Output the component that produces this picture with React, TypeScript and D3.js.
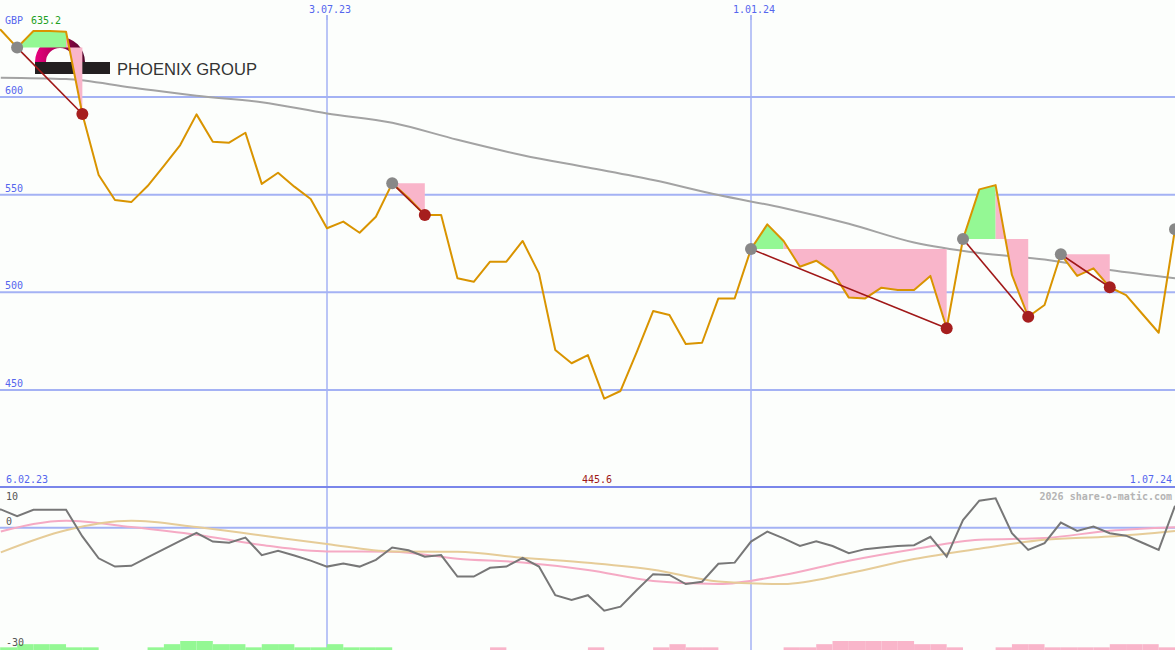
import * as d3 from "d3"

const W = 1175
const H = 650

const startDate = new Date(Date.UTC(2023, 1, 6))
const endDate = new Date(Date.UTC(2024, 6, 1))

// weekly closes, GBP (pence)
const price = [
  636.0, 634.3, 625.3, 633.8, 633.8, 633.4, 591.3, 560.1, 547.3, 546.2,
  554.4, 564.7, 575.4, 591.1, 577.1, 576.6, 581.7, 555.5, 561.2, 554.1,
  547.8, 532.8, 536.2, 530.5, 538.7, 555.8, 548.3, 539.6, 539.6, 507.2,
  505.4, 515.7, 515.7, 526.3, 509.7, 470.5, 463.7, 467.9, 445.6, 449.5,
  469.5, 490.4, 488.4, 473.5, 474.2, 496.9, 496.9, 522.2, 534.8, 526.3,
  513.1, 516.2, 510.6, 497.3, 496.9, 502.4, 501.2, 501.2, 508.4, 481.6,
  527.3, 552.7, 554.9, 508.9, 487.5, 493.5, 519.5, 508.4, 512.3, 502.6,
  498.6, 488.9, 479.3, 532.3,
]

// long moving average, read every 4th week starting at week 1
const maValues = [
  609.9, 609.2, 604.9, 600.6, 597.3, 591.6, 586.8, 578.1, 570.2, 563.9,
  557.5, 549.8, 543.2, 535.1, 525.5, 520.1, 516.8, 511.4, 507.2,
]

// lower panel oscillator, weekly
const osc = [
  4.0, 4.6, 2.9, 4.5, 4.5, 4.5, -2.2, -7.7, -9.8, -9.6,
  -7.5, -5.4, -3.3, -1.3, -3.5, -3.8, -2.5, -6.9, -5.8, -7.0,
  -8.3, -9.8, -9.0, -9.8, -8.1, -5.0, -5.7, -7.3, -6.9, -12.3,
  -12.3, -10.1, -9.8, -7.6, -9.8, -17.0, -18.2, -17.0, -20.9, -19.9,
  -15.7, -11.7, -11.9, -14.2, -13.6, -9.1, -8.8, -3.5, -1.0, -2.7,
  -4.6, -3.4, -4.6, -6.4, -5.4, -5.0, -4.6, -4.4, -2.3, -7.3,
  1.9, 6.8, 7.4, -1.4, -5.6, -3.9, 1.3, -0.8, 0.3, -1.4,
  -2.0, -3.8, -5.6, 5.5,
]

// smoothed oscillator lines, every 4th week starting at week 1
const oscFast = [
  -0.96, 1.76, 0.18, -1.76, -4.36, -6.0, -6.05, -7.8, -8.77, -10.65,
  -13.4, -14.2, -11.9, -8.3, -5.4, -3.05, -2.6, -0.76, 0.13,
]
const oscSlow = [
  -6.2, -0.63, 1.74, 0.18, -1.96, -4.1, -6.0, -6.05, -7.58, -8.84,
  -10.58, -13.55, -14.2, -11.5, -7.9, -5.3, -3.05, -2.24, -0.83,
]

// bottom strip: + green, - pink
const strip = [
  1, 1, 2, 2, 2, 1, 1, 0, 0, 0,
  1, 2, 3, 3, 2, 2, 1, 2, 2, 1,
  1, 2, 1, 1, 1, 0, 0, 0, 0, 0,
  0, -1, 0, 0, 0, 0, 0, -1, 0, 0,
  0, -1, -2, -1, -1, 0, 0, 0, 0, -1,
  -1, -2, -3, -3, -3, -3, -3, -2, -2, -1,
  0, 0, -1, -2, -2, -1, -1, -1, -1, -2,
  -2, -2, -1, -1,
]

const signalStart = [2, 25, 47, 60, 66, 73]
const signalEnd = [6, 27, 59, 64, 69, -1]

const priceTicks = [450, 500, 550, 600]
const dateTicks = [new Date(Date.UTC(2023, 6, 3)), new Date(Date.UTC(2024, 0, 1))]
const dateTickLabels = ["3.07.23", "1.01.24"]

const MONO = "'DejaVu Sans Mono', monospace"
const GRID = "#a4b2f4"
const BLUE = "#5566ee"

export default function App() {
  const weeks = price.map((_, i) => d3.utcDay.offset(startDate, 7 * i))
  const sparse = maValues.map((_, i) => weeks[1 + 4 * i])

  const x = d3.scaleUtc().domain([startDate, endDate]).range([-15.5, W])
  const y = d3.scaleLinear().domain([450, 600]).range([390, 97])
  const yo = d3.scaleLinear().domain([-30, 10]).range([646.8, 488])
  const yb = d3.scaleLinear().domain([0, 3]).range([650.5, 641])

  const priceLine = d3
    .line<number>()
    .x((_, i) => x(weeks[i]))
    .y((d) => y(d))
  const maLine = d3
    .line<number>()
    .x((_, i) => x(sparse[i]))
    .y((d) => y(d))
    .curve(d3.curveMonotoneX)
  const oscLine = d3
    .line<number>()
    .x((_, i) => x(weeks[i]))
    .y((d) => yo(d))
  const smoothLine = d3
    .line<number>()
    .x((_, i) => x(sparse[i]))
    .y((d) => yo(d))
    .curve(d3.curveMonotoneX)
  const poly = d3.line<[number, number]>()

  // green: rise above the signal level, pink: fall from there to the end point
  const fills: { d: string; color: string }[] = []
  signalStart.forEach((s, n) => {
    const e = signalEnd[n]
    if (e < 0) return
    const level = y(price[s])
    let k = s
    while (k + 1 <= e && price[k + 1] > price[s]) k++
    if (k > s) {
      const pts: [number, number][] = d3.range(s, k + 1).map((i) => [x(weeks[i]), y(price[i])])
      pts.push([x(weeks[k]), level], [x(weeks[s]), level])
      fills.push({ d: poly(pts) + "Z", color: "#94f894" })
    }
    const pp: [number, number][] = d3.range(k, e + 1).map((i) => [x(weeks[i]), y(price[i])])
    pp.push([x(weeks[e]), level], [x(weeks[k]), level])
    fills.push({ d: poly(pp) + "Z", color: "#f9b5ca" })
  })

  const logoArc = d3.arc()({
    innerRadius: 14,
    outerRadius: 25,
    startAngle: -Math.PI / 2,
    endAngle: Math.PI / 2,
  } as any)

  return (
    <div>
      <style>{"body{margin:0}"}</style>
      <svg width={W} height={H} style={{ display: "block", background: "#fcfefc" }}>
        <defs>
          <clipPath id="main">
            <rect x={0} y={0} width={W} height={487} />
          </clipPath>
          <clipPath id="lower">
            <rect x={0} y={488} width={W} height={H - 488} />
          </clipPath>
          <linearGradient id="phx" x1="0" x2="1" y1="0" y2="0">
            <stop offset="0" stopColor="#e8007e" />
            <stop offset="0.55" stopColor="#a0004e" />
            <stop offset="1" stopColor="#4e0a2a" />
          </linearGradient>
        </defs>

        {/* grid */}
        {priceTicks.map((t) => (
          <line key={t} x1={0} x2={W} y1={y(t)} y2={y(t)} stroke={GRID} strokeWidth={2} />
        ))}
        {dateTicks.map((d, i) => (
          <line key={i} x1={Math.round(x(d))} x2={Math.round(x(d))} y1={15} y2={H} stroke={GRID} strokeWidth={1.5} />
        ))}
        <line x1={0} x2={W} y1={yo(0)} y2={yo(0)} stroke={GRID} strokeWidth={2} />
        <line x1={0} x2={W} y1={487} y2={487} stroke="#7a86ea" strokeWidth={2} />

        {/* logo */}
        <g>
          <path d={logoArc || ""} transform="translate(60,62)" fill="url(#phx)" />
          <rect x={35} y={62} width={75} height={12} fill="#231f20" />
          <text x={117} y={75} fontFamily="'Liberation Sans', Arial, sans-serif" fontSize={17} fill="#333" textLength={140} lengthAdjust="spacingAndGlyphs">
            PHOENIX GROUP
          </text>
        </g>

        <g clipPath="url(#main)">
          <path d={maLine(maValues) || ""} fill="none" stroke="#a3a3a3" strokeWidth={2} />
          {fills.map((f, i) => (
            <path key={i} d={f.d} fill={f.color} />
          ))}
          <path d={priceLine(price) || ""} fill="none" stroke="#d99400" strokeWidth={2} strokeLinejoin="round" />
          {signalStart.map((s, n) =>
            signalEnd[n] < 0 ? null : (
              <line
                key={n}
                x1={x(weeks[s])}
                y1={y(price[s])}
                x2={x(weeks[signalEnd[n]])}
                y2={y(price[signalEnd[n]])}
                stroke="#a01818"
                strokeWidth={1.6}
              />
            ),
          )}
          {signalStart.map((s) => (
            <circle key={"s" + s} cx={x(weeks[s])} cy={y(price[s])} r={6} fill="#888" />
          ))}
          {signalEnd.filter((e) => e >= 0).map((e) => (
            <circle key={"e" + e} cx={x(weeks[e])} cy={y(price[e])} r={6} fill="#a61e1e" />
          ))}
        </g>

        {/* lower panel */}
        <g clipPath="url(#lower)">
          {strip.map((v, i) =>
            v === 0 ? null : (
              <rect
                key={i}
                x={x(weeks[i])}
                width={x(weeks[1]) - x(weeks[0])}
                y={yb(Math.abs(v))}
                height={yb(0) - yb(Math.abs(v))}
                fill={v > 0 ? "#94f894" : "#f9b5ca"}
              />
            ),
          )}
          <path d={smoothLine(oscFast) || ""} fill="none" stroke="#f5aac4" strokeWidth={2} />
          <path d={smoothLine(oscSlow) || ""} fill="none" stroke="#e6cc98" strokeWidth={2} />
          <path d={oscLine(osc) || ""} fill="none" stroke="#777" strokeWidth={2} />
        </g>

        {/* labels */}
        <g fontFamily={MONO} fontSize={10}>
          {priceTicks.map((t) => (
            <text key={t} x={5} y={y(t) - 3} fill={BLUE}>
              {t}
            </text>
          ))}
          <text x={5} y={24} fill={BLUE}>GBP</text>
          <text x={31} y={24} fill="#22a022">635.2</text>
          {dateTicks.map((d, i) => (
            <g key={i}>
              <text x={x(d) + 3} y={13} fill={BLUE} textAnchor="middle">
                {dateTickLabels[i]}
              </text>
              <line x1={Math.round(x(d))} x2={Math.round(x(d))} y1={15} y2={20} stroke={GRID} strokeWidth={1.5} />
            </g>
          ))}
          <text x={6} y={483} fill={BLUE}>6.02.23</text>
          <text x={597} y={483} fill="#a01818" textAnchor="middle">445.6</text>
          <text x={1172} y={483} fill={BLUE} textAnchor="end">1.07.24</text>
          <text x={1172} y={500} fill="#b4b4b4" textAnchor="end" fontWeight="bold">2026 share-o-matic.com</text>
          <text x={6} y={499.5} fill="#555">10</text>
          <text x={6} y={525} fill="#555">0</text>
          <text x={6} y={646} fill="#555">-30</text>
        </g>
      </svg>
    </div>
  )
}
